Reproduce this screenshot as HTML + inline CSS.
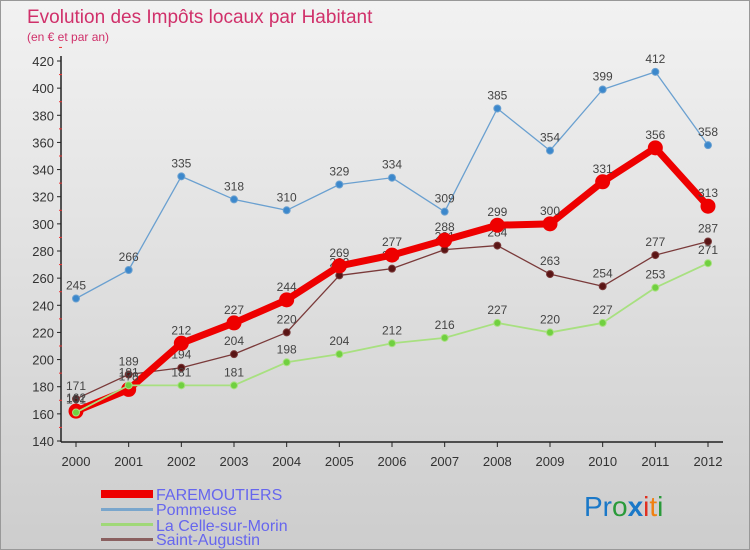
<!DOCTYPE html>
<html><head><meta charset="utf-8"><style>
body{margin:0}
#c{width:750px;height:550px;position:relative;background:linear-gradient(#f2f2f2,#cdcdcd);font-family:"Liberation Sans",sans-serif;overflow:hidden;box-sizing:border-box;border:1px solid #999}
</style></head><body>
<div id="c">
<svg id="s" width="750" height="550">
<text x="26" y="22" font-size="19" fill="#d0306a">Evolution des Impôts locaux par Habitant</text>
<text x="26" y="40" font-size="12" fill="#d0306a">(en € et par an)</text>
<g id="g"></g>
<g>
<rect x="100" y="489" width="52" height="8" fill="#e00"/>
<text x="155" y="499" font-size="16" fill="#6666ee">FAREMOUTIERS</text>
<rect x="100" y="507" width="52" height="3" fill="#7aa6cc"/>
<text x="155" y="514" font-size="16" fill="#6666ee">Pommeuse</text>
<rect x="100" y="522" width="52" height="3" fill="#a0d878"/>
<text x="155" y="530" font-size="16" fill="#6666ee">La Celle-sur-Morin</text>
<rect x="100" y="537" width="52" height="3" fill="#8a6060"/>
<text x="155" y="544" font-size="16" fill="#6666ee">Saint-Augustin</text>
</g>
<text x="583" y="515" font-size="28"><tspan fill="#1a78c8">Pr</tspan><tspan fill="#2a9a3a">o</tspan><tspan fill="#1a78c8" font-weight="bold">x</tspan><tspan fill="#e03020">i</tspan><tspan fill="#f08010">t</tspan><tspan fill="#2a9a3a">i</tspan></text>
</svg>
</div>
<script>
const years=[2000,2001,2002,2003,2004,2005,2006,2007,2008,2009,2010,2011,2012];
const yTicks=[140,160,180,200,220,240,260,280,300,320,340,360,380,400,420];
const faremoutiers=[162,178,212,227,244,269,277,288,299,300,331,356,313];
const pommeuse=[245,266,335,318,310,329,334,309,385,354,399,412,358];
const laCelle=[161,181,181,181,198,204,212,216,227,220,227,253,271];
const saintAugustin=[171,189,194,204,220,262,267,281,284,263,254,277,287];
const X=i=>75+i*(707-75)/12;
const Y=v=>440-(v-140)*(380/280);
const g=document.getElementById('g');const NS='http://www.w3.org/2000/svg';
function mk(t,a){const e=document.createElementNS(NS,t);for(const k in a)e.setAttribute(k,a[k]);g.appendChild(e);return e;}
let e=mk('line',{x1:60,y1:55,x2:60,y2:441,stroke:'#222','stroke-width':1.5});


e=mk('line',{x1:60,y1:441,x2:722,y2:441,stroke:'#222','stroke-width':1.5});


yTicks.forEach(v=>{
 e=mk('line',{x1:56,y1:Y(v),x2:60,y2:Y(v),stroke:'#222'});
 
 
 e=mk('line',{x1:58,y1:Y(v+10),x2:61,y2:Y(v+10),stroke:'#e33'});
 
 
 e=mk('text',{x:53,y:Y(v)+5,'font-size':13,fill:'#333','text-anchor':'end'});e.textContent=v;
 
 
});
years.forEach((y,i)=>{
 e=mk('line',{x1:X(i),y1:441,x2:X(i),y2:446,stroke:'#222'});
 
 
 e=mk('text',{x:X(i),y:465,'font-size':13,fill:'#333','text-anchor':'middle'});e.textContent=y;
 
 
});
function series(d,name,col,w,r,dot){
 e=mk('polyline',{points:d.map((v,i)=>X(i)+','+Y(v)).join(' '),fill:'none',stroke:col,'stroke-width':w,'stroke-linejoin':'round'});
 
 
 d.forEach((v,i)=>{
  e=mk('circle',{cx:X(i),cy:Y(v),r:r,fill:dot,stroke:col,'stroke-width':1});
  
  
  e=mk('text',{x:X(i),y:Y(v)-9,'font-size':12,fill:'#444','text-anchor':'middle'});e.textContent=v;
  
  
 });
}
series(pommeuse,'pommeuse','#6aa0d0',1.3,3.5,'#3c88cc');
series(saintAugustin,'saint-augustin','#7a3a3a',1.3,3.5,'#5a1515');
series(faremoutiers,'faremoutiers','#ee0000',7,7,'#ee0000');
series(laCelle,'la-celle-sur-morin','#a8e080',1.8,3.5,'#70d040');
</script>
</body></html>
